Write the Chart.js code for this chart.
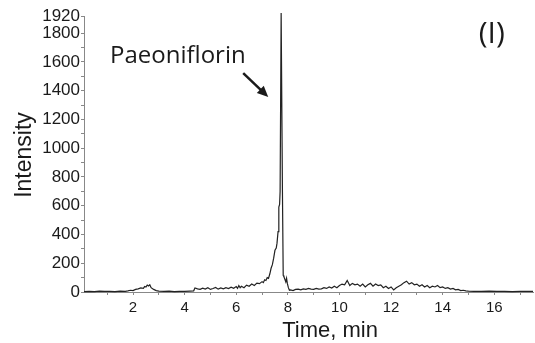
<!DOCTYPE html>
<html>
<head>
<meta charset="utf-8">
<script src="https://cdn.jsdelivr.net/npm/chart.js@4/dist/chart.umd.min.js"></script>
<style>
  html, body { margin: 0; padding: 0; background: #fff; }
  canvas { display: block; }
</style>
</head>
<body>
<canvas id="chromatogram" width="535" height="343"></canvas>
<script>

// retention time (min) and detector intensity
const time = [
  0.1, 0.3, 0.5, 0.7, 0.9, 1.1, 1.3, 1.5, 1.7, 1.8, 1.9, 2.0, 2.1, 2.2, 2.3, 2.4, 2.45, 2.5, 2.55, 2.6, 2.65, 2.7, 2.8, 2.9, 3.0,
  3.2, 3.4, 3.6, 3.8, 4.0, 4.2, 4.35,
  4.4, 4.5, 4.6, 4.7, 4.8, 4.9, 5.0, 5.1, 5.2, 5.3, 5.4, 5.5, 5.6, 5.7, 5.8, 5.9, 6.0, 6.05, 6.1, 6.15, 6.2, 6.3, 6.4, 6.5, 6.6, 6.7, 6.8, 6.9, 7.0, 7.05, 7.1, 7.15, 7.2, 7.25, 7.3,
  7.35, 7.4, 7.45, 7.5, 7.55, 7.58, 7.62, 7.65, 7.68, 7.7, 7.74, 7.79, 7.82, 7.85, 7.88, 7.92, 7.95, 7.98, 8.02, 8.06, 8.1, 8.2, 8.3,
  8.4, 8.5, 8.6, 8.7, 8.8, 8.9, 9.0, 9.1, 9.2, 9.3, 9.4, 9.5, 9.6, 9.7, 9.8, 9.9,
  10.0, 10.1, 10.2, 10.3, 10.4, 10.5, 10.6, 10.7, 10.8, 10.9, 11.0, 11.1, 11.2, 11.3, 11.4, 11.5, 11.6, 11.7, 11.8, 11.9,
  12.0, 12.1, 12.2, 12.3, 12.4, 12.5, 12.6, 12.7, 12.8, 12.9, 13.0, 13.1, 13.2, 13.3, 13.4, 13.5, 13.6, 13.7, 13.8, 13.9,
  14.0, 14.1, 14.2, 14.3, 14.4, 14.5, 14.6, 14.7, 14.8, 14.9, 15.0,
  15.2, 15.5, 15.8, 16.1, 16.4, 16.7, 17.0, 17.3, 17.5
];

const intensity = [
  3, 5, 3, 6, 4, 5, 3, 6, 5, 8, 12, 10, 18, 22, 28, 25, 38, 35, 48, 42, 50, 30, 18, 10, 6,
  4, 6, 3, 5, 4, 6, 8,
  28, 22, 18, 26, 20, 30, 18, 24, 32, 20, 28, 22, 30, 24, 34, 26, 38, 25, 45, 30, 40, 30, 48, 40, 55, 45, 62, 58, 72, 65, 85, 80, 100, 95, 125,
  165, 190, 235, 290, 305, 340, 420, 590, 610, 700, 1940, 700, 115, 105, 90, 70, 95, 60, 30, 12, 15, 10, 18,
  20, 15, 22, 18, 25, 20, 18, 25, 20, 22, 30, 25, 35, 28, 40, 30,
  45, 55, 50, 80, 45, 60, 50, 55, 40, 55, 35, 50, 60, 40, 55, 45, 50, 30, 40, 25,
  35, 15, 30, 40, 50, 65, 75, 55, 65, 50, 55, 40, 50, 35, 45, 30, 40, 35, 45, 30,
  35, 25, 30, 20, 25, 15, 18, 10, 12, 8, 6,
  5, 4, 6, 4, 5, 3, 5, 4, 5
];

const xTicks = [1, 2, 3, 4, 5, 6, 7, 8, 9, 10, 11, 12, 13, 14, 15, 16, 17];
const yTicks = [0, 100, 200, 300, 400, 500, 600, 700, 800, 900, 1000, 1100, 1200, 1300, 1400, 1500, 1600, 1700, 1800, 1920];

const peakName = "Paeoniflorin";
const panelLabel = "(I)";
const xTitle = "Time, min";
const yTitle = "Intensity";

// text labels + arrow, placed in data units
const labels = {
  id: "labels",
  afterDraw(chart) {
    const ctx = chart.ctx;
    const x = chart.scales.x;
    const y = chart.scales.y;

    ctx.save();
    ctx.fillStyle = "#1a1a1a";
    ctx.strokeStyle = "#1a1a1a";

    ctx.font = "24px 'Open Sans'";
    ctx.textAlign = "left";
    ctx.textBaseline = "alphabetic";
    ctx.fillText(peakName, x.getPixelForValue(1.11), y.getPixelForValue(1593));

    ctx.font = "30px 'Open Sans'";
    ctx.textAlign = "center";
    ctx.fillText(panelLabel, x.getPixelForValue(15.9), y.getPixelForValue(1732));

    // arrow
    const x0 = x.getPixelForValue(6.27), y0 = y.getPixelForValue(1523);
    const x1 = x.getPixelForValue(7.24), y1 = y.getPixelForValue(1357);
    const a = Math.atan2(y1 - y0, x1 - x0);
    ctx.lineWidth = 2.5;
    ctx.beginPath();
    ctx.moveTo(x0, y0);
    ctx.lineTo(x1 - 6 * Math.cos(a), y1 - 6 * Math.sin(a));
    ctx.stroke();
    ctx.beginPath();
    ctx.moveTo(x1, y1);
    ctx.lineTo(x1 - 11 * Math.cos(a) + 5 * Math.sin(a), y1 - 11 * Math.sin(a) - 5 * Math.cos(a));
    ctx.lineTo(x1 - 11 * Math.cos(a) - 5 * Math.sin(a), y1 - 11 * Math.sin(a) + 5 * Math.cos(a));
    ctx.closePath();
    ctx.fill();

    // axis titles
    ctx.font = "22px 'Liberation Sans'";
    ctx.textAlign = "center";
    ctx.fillText(xTitle, 330, 337);

    ctx.translate(31, 155);
    ctx.rotate(-Math.PI / 2);
    ctx.font = "23px 'Liberation Sans'";
    ctx.fillText(yTitle, 0, 0);

    ctx.restore();
  }
};

new Chart(document.getElementById("chromatogram"), {
  type: "line",
  data: {
    datasets: [{
      data: time.map((t, i) => ({ x: t, y: intensity[i] })),
      borderColor: "#222",
      borderWidth: 1.2,
      pointRadius: 0,
      tension: 0,
      fill: false,
      clip: false
    }]
  },
  options: {
    responsive: false,
    animation: false,
    layout: { padding: { top: 16, right: 2, left: 0, bottom: 0 } },
    plugins: {
      legend: { display: false },
      tooltip: { enabled: false }
    },
    scales: {
      x: {
        type: "linear",
        min: 0.1,
        max: 17.5,
        afterBuildTicks: s => { s.ticks = xTicks.map(v => ({ value: v })); },
        afterFit: s => { s.height = 51; },
        ticks: {
          autoSkip: false,
          maxRotation: 0,
          padding: 4,
          color: "#1a1a1a",
          font: { family: "'Liberation Sans'", size: 15 },
          callback: v => (v % 2 === 0 ? v : "")
        },
        grid: { drawOnChartArea: false, tickLength: 3, color: "#888" },
        border: { color: "#888", width: 1 }
      },
      y: {
        min: 0,
        max: 1920,
        afterBuildTicks: s => { s.ticks = yTicks.map(v => ({ value: v })); },
        afterFit: s => { s.width = 84; },
        ticks: {
          autoSkip: false,
          padding: 1,
          color: "#1a1a1a",
          font: { family: "'Liberation Sans'", size: 17 },
          callback: v => (v % 200 === 0 || v === 1920 ? v : "")
        },
        grid: { drawOnChartArea: false, tickLength: 3, color: "#888" },
        border: { color: "#888", width: 1 }
      }
    }
  },
  plugins: [labels]
});

</script>
</body>
</html>
